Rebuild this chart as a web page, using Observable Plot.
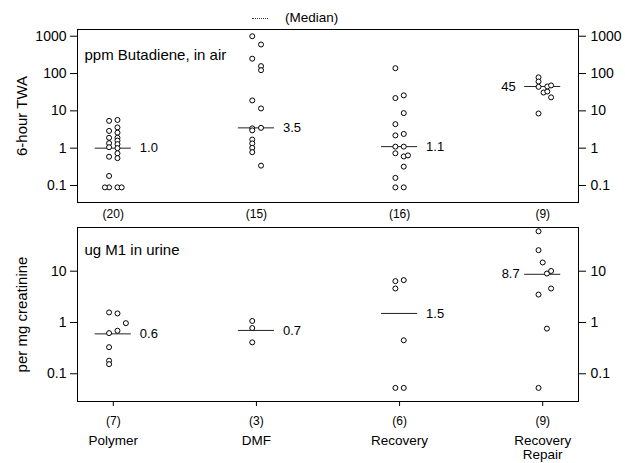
<!DOCTYPE html>
<html><head><meta charset="utf-8">
<script src="https://cdn.jsdelivr.net/npm/d3@7"></script>
<script src="https://cdn.jsdelivr.net/npm/@observablehq/plot@0.6"></script>
<style>
body{margin:0;background:#fff;font-family:"Liberation Sans",Arial,sans-serif;}
#wrap{position:relative;width:625px;height:463px;overflow:hidden;background:#fff;}
#top,#bot{position:absolute;left:0;}
#top{top:0;} #bot{top:222px;}
#legend{position:absolute;left:252px;top:10px;font-size:13.5px;line-height:16px;display:flex;align-items:center;color:#000;}
#legend span{display:inline-block;width:16px;border-top:1px dotted #333;margin-right:17px;}
</style></head>
<body><div id="wrap"><div id="top"></div><div id="bot"></div>
<div id="legend"><span></span>(Median)</div></div>
<script>
// ---- data ----
const categories = ["Polymer", "DMF", "Recovery", "Recovery\nRepair"];
const airCounts = [20, 15, 16, 9];
const urineCounts = [7, 3, 6, 9];
const airMedians = [1.0, 3.5, 1.1, 45];
const urineMedians = [0.6, 0.7, 1.5, 8.7];
const airTicks = [0.1, 1, 10, 100, 1000];
const urineTicks = [0.1, 1, 10];
// [value, column offset]
const airPolymer = [[5.4,-1],[2.9,-1],[1.9,-1],[1.36,-1],[1.06,-1],[0.59,-1],[0.18,-1],[0.089,-1],[0.089,-2],
  [5.7,1],[3.6,1],[2.6,1],[1.9,1],[1.6,1],[1.28,1],[1.0,1],[0.73,1],[0.54,1],[0.089,1],[0.089,2]];
const airDMF = [[1000,-1],[250,-1],[19,-1],[3.4,-1],[3.0,-1],[1.7,-1],[1.34,-1],[1.02,-1],[0.78,-1],
  [600,1.1],[158,1.1],[123,1.1],[11.6,1.1],[3.5,1.1],[0.34,1.1]];
const airRecovery = [[139,-1],[22,-1],[4.4,-1],[2.2,-1],[1.1,-1],[0.73,-1],[0.16,-1],[0.089,-1],
  [26,1],[8.7,1],[2.4,1],[1.1,1],[0.6,1],[0.64,2],[0.32,1],[0.089,1]];
const airRepair = [[79,-1],[61,-1],[44,-1],[8.5,-1],[31,0.2],[33,1.1],[45,1.1],[48,2],[23,2]];
const urinePolymer = [[1.57,-1],[0.62,-1],[0.33,-1],[0.18,-1],[0.154,-1],[1.5,1],[0.69,1],[0.97,3]];
const urineDMF = [[1.07,-1],[0.78,-1],[0.41,-1]];
const urineRecovery = [[6.4,-1],[4.6,-1],[0.053,-1],[6.7,1],[0.45,1],[0.053,1]];
const urineRepair = [[60,-1],[25.7,-1],[3.5,-1],[0.053,-1],[14.8,0],[9.0,1],[0.76,1],[10.1,2],[4.6,2]];

const FONT = '"Liberation Sans", Arial, sans-serif';
const fmtMed = d => d >= 10 ? d.toFixed(0) : d.toFixed(1);
const OFF = 0.0293;

function panel(o) {
  const rows = o.groups.flatMap((g, i) => g.map(([v, k]) => ({cat: i + 1, v, k})));
  const med = o.medians.map((m, i) => ({cat: i + 1, m}));
  const cnt = o.counts.map((n, i) => ({cat: i + 1, n, name: categories[i]}));
  const marks = [
    Plot.frame({stroke: "black", strokeWidth: 1}),
    Plot.axisY({anchor: "left", ticks: o.ticks, tickFormat: d => String(d), tickSize: 7, tickPadding: 4,
      fontSize: 14, label: null}),
    Plot.axisY({anchor: "right", ticks: o.ticks, tickFormat: d => String(d), tickSize: 7, tickPadding: 5,
      fontSize: 14, label: null}),
    Plot.text([o.label], {frameAnchor: "left", dx: -55, rotate: -90, text: d => d, fontSize: 15,
      textAnchor: "middle", lineAnchor: "middle"}),
    Plot.ruleY(med, {y: "m", x1: d => d.cat - 0.126, x2: d => d.cat + 0.126, stroke: "#222", strokeWidth: 1}),
    Plot.dot(rows, {x: d => d.cat + d.k * OFF, y: "v", r: 2.5, stroke: "black", fill: "white", strokeWidth: 1}),
    Plot.text(med.filter(d => d.cat < 4), {x: "cat", y: "m", text: d => fmtMed(d.m), dx: 26.5,
      textAnchor: "start", fontSize: 13}),
    Plot.text(med.filter(d => d.cat === 4), {x: "cat", y: "m", text: d => fmtMed(d.m), dx: o.endDx,
      textAnchor: "end", fontSize: 13}),
    Plot.text([o.title], {frameAnchor: "top-left", dx: 7, dy: o.titleDy, text: d => d, fontSize: 15,
      textAnchor: "start", lineAnchor: "middle"}),
    Plot.text(cnt, {x: "cat", frameAnchor: "bottom", dy: o.countDy, text: d => `(${d.n})`, fontSize: 12,
      lineAnchor: "middle"})
  ];
  if (o.names) {
    marks.push(Plot.axisX({ticks: [1, 2, 3, 4], tickFormat: () => "", tickSize: 5, label: null}));
    marks.push(Plot.text(cnt, {x: "cat", frameAnchor: "bottom", dy: 33, text: "name", fontSize: 13.5,
      lineAnchor: "top", lineHeight: 1.08}));
  }
  return Plot.plot({
    width: 625, height: o.height, marginLeft: 77, marginRight: 47, marginTop: o.mt, marginBottom: o.mb,
    style: {fontFamily: FONT, fontSize: "14px", background: "white", color: "black"},
    x: {domain: [0.75, 4.25], axis: null},
    y: {type: "log", domain: o.domain, axis: null},
    marks
  });
}

document.getElementById("top").appendChild(panel({
  groups: [airPolymer, airDMF, airRecovery, airRepair], counts: airCounts, medians: airMedians,
  domain: [0.035, 1514], ticks: airTicks, label: "6-hour TWA", title: "ppm Butadiene, in air",
  height: 222, mt: 29, mb: 20, countDy: 12, titleDy: 26, endDx: -27, names: false
}));
document.getElementById("bot").appendChild(panel({
  groups: [urinePolymer, urineDMF, urineRecovery, urineRepair], counts: urineCounts, medians: urineMedians,
  domain: [0.0288, 71.1], ticks: urineTicks, label: "per mg creatinine", title: "ug M1 in urine",
  height: 241, mt: 5, mb: 62, countDy: 20, titleDy: 23, endDx: -23, names: true
}));
</script></body></html>
